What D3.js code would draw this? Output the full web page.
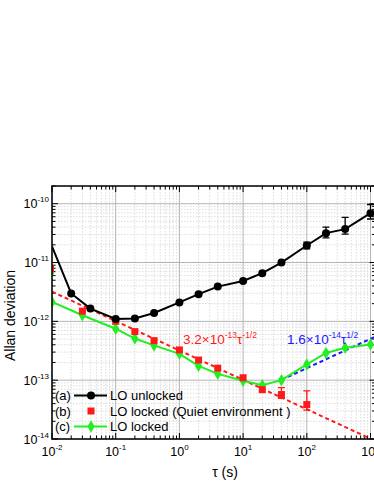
<!DOCTYPE html>
<html lang="en">
<head>
<meta charset="UTF-8">
<title>Allan deviation</title>
<script src="https://d3js.org/d3.v7.min.js"></script>
<style>
    body { margin: 0; background: #fff; }
    text { font-family: "Liberation Sans", Arial, sans-serif; }
</style>
</head>
<body>
<svg id="chart" width="374" height="484"></svg>
<script>
// (a) LO unlocked
const tauA = [0.01, 0.02, 0.04, 0.1, 0.2, 0.4, 1, 2, 4, 10, 20, 40, 100, 200, 400, 1000];
const adevA = [1.88e-11, 2.98e-12, 1.65e-12, 1.1e-12, 1.12e-12, 1.39e-12, 2.1e-12, 2.9e-12, 3.9e-12, 4.85e-12, 6.6e-12, 1.0e-11, 1.95e-11, 3.16e-11, 3.7e-11, 6.9e-11];
const errLoA = [null, null, null, null, null, null, null, null, null, null, null, null, 1.71e-11, 2.63e-11, 3.05e-11, 5.5e-11];
const errHiA = [null, null, null, null, null, null, null, null, null, null, null, null, 2.23e-11, 4.0e-11, 5.84e-11, 9.7e-11];

// (b) LO locked (quiet environment)
const tauB = [0.0095, 0.03, 0.1, 0.2, 0.4, 1, 2, 4, 10, 20, 40, 100];
const adevB = [7.8e-12, 1.49e-12, 1.0e-12, 6.7e-13, 4.7e-13, 3.27e-13, 2.2e-13, 1.6e-13, 1.1e-13, 6.9e-14, 5.7e-14, 3.85e-14];
const errLoB = [null, null, null, null, null, null, null, null, null, null, 4.9e-14, 3.1e-14];
const errHiB = [null, null, null, null, null, null, null, null, null, null, 7.5e-14, 6.6e-14];

// (c) LO locked
const tauC = [0.01, 0.03, 0.1, 0.2, 0.4, 1, 2, 4, 10, 20, 40, 100, 200, 400, 1000];
const adevC = [2.14e-12, 1.27e-12, 7.5e-13, 5.1e-13, 3.9e-13, 2.8e-13, 1.75e-13, 1.28e-13, 9.8e-14, 8.2e-14, 1.0e-13, 1.85e-13, 2.9e-13, 3.55e-13, 4.05e-13];
const strayTauC = [0.0095];
const strayAdevC = [6.5e-12];

// power-law fits: coeff * tau^exp
const fitRed = {coeff: 3.2e-13, exp: -0.5, from: 0.01, to: 1000};
const fitBlue = {coeff: 1.6e-14, exp: 0.5, from: 40, to: 1300};

const xDomain = [0.01, 1200];
const yDomain = [1e-14, 2e-10];
const xTickLabels = [0.01, 0.1, 1, 10, 100, 1000];
const yTickLabels = [1e-14, 1e-13, 1e-12, 1e-11, 1e-10];

const svg = d3.select("#chart");
const pLeft = 52, pTop = 186, pBottom = 439;
const decade = 63.7;

const x = d3.scaleLog().domain(xDomain)
    .range([pLeft, pLeft + decade * Math.log10(xDomain[1] / xDomain[0])]);
const y = d3.scaleLog().domain(yDomain).range([pBottom, pTop]);
const pRight = x.range()[1];

svg.append("defs").append("clipPath").attr("id", "plot")
    .append("rect").attr("x", pLeft).attr("y", pTop)
    .attr("width", pRight - pLeft).attr("height", pBottom - pTop);

const grid = svg.append("g");
const isMajor = v => Math.abs(Math.log10(v) - Math.round(Math.log10(v))) < 1e-6;
const xt = x.ticks(), yt = y.ticks();

// minor grid
grid.selectAll(".gx").data(xt.filter(d => !isMajor(d))).join("line")
    .attr("x1", d => x(d)).attr("x2", d => x(d)).attr("y1", pTop).attr("y2", pBottom)
    .attr("stroke", "#d4d4d4").attr("stroke-width", 0.8).attr("stroke-dasharray", "1.5,1.5");
grid.selectAll(".gy").data(yt.filter(d => !isMajor(d))).join("line")
    .attr("y1", d => y(d)).attr("y2", d => y(d)).attr("x1", pLeft).attr("x2", pRight)
    .attr("stroke", "#d4d4d4").attr("stroke-width", 0.8).attr("stroke-dasharray", "1.5,1.5");
// major grid
grid.selectAll(".mx").data(xt.filter(isMajor)).join("line")
    .attr("x1", d => x(d)).attr("x2", d => x(d)).attr("y1", pTop).attr("y2", pBottom)
    .attr("stroke", "#b4b4b4").attr("stroke-width", 1);
grid.selectAll(".my").data(yt.filter(isMajor)).join("line")
    .attr("y1", d => y(d)).attr("y2", d => y(d)).attr("x1", pLeft).attr("x2", pRight)
    .attr("stroke", "#b4b4b4").attr("stroke-width", 1);

// inward ticks
const ticks = svg.append("g").attr("stroke", "#000").attr("stroke-width", 1);
xt.forEach(d => {
    const len = isMajor(d) ? 6 : 3.5;
    ticks.append("line").attr("x1", x(d)).attr("x2", x(d)).attr("y1", pBottom).attr("y2", pBottom - len);
    ticks.append("line").attr("x1", x(d)).attr("x2", x(d)).attr("y1", pTop).attr("y2", pTop + len);
});
yt.forEach(d => {
    const len = isMajor(d) ? 6 : 3.5;
    ticks.append("line").attr("y1", y(d)).attr("y2", y(d)).attr("x1", pLeft).attr("x2", pLeft + len);
    ticks.append("line").attr("y1", y(d)).attr("y2", y(d)).attr("x1", pRight).attr("x2", pRight - len);
});

// tick labels
const exp = v => Math.round(Math.log10(v));
xTickLabels.forEach(d => {
    const t = svg.append("text").attr("x", x(d)).attr("y", 456)
        .attr("text-anchor", "middle").attr("font-size", 12.5);
    t.append("tspan").text("10");
    t.append("tspan").attr("dy", -6).attr("font-size", 8).text(exp(d));
});
yTickLabels.forEach(d => {
    const t = svg.append("text").attr("x", 49).attr("y", y(d) + 4.5)
        .attr("text-anchor", "end").attr("font-size", 12.5);
    t.append("tspan").text("10");
    t.append("tspan").attr("dy", -6).attr("font-size", 8).text(exp(d));
});

// axis titles
svg.append("text").attr("transform", `translate(15,${(pTop + pBottom) / 2 + 3}) rotate(-90)`)
    .attr("text-anchor", "middle").attr("font-size", 14).text("Allan deviation");
svg.append("text").attr("x", 225).attr("y", 477).attr("text-anchor", "middle")
    .attr("font-size", 14).text("τ (s)");

const plot = svg.append("g").attr("clip-path", "url(#plot)");
const line = d3.line().x(d => x(d[0])).y(d => y(d[1]));

// fits
[[fitRed, "#ff1a1a"], [fitBlue, "#1a1aff"]].forEach(([f, c]) => {
    const pts = [f.from, f.to].map(t => [t, f.coeff * Math.pow(t, f.exp)]);
    plot.append("path").attr("d", line(pts)).attr("fill", "none")
        .attr("stroke", c).attr("stroke-width", 2).attr("stroke-dasharray", "4,3");
});

function errorBars(taus, lo, hi, color) {
    taus.forEach((t, i) => {
        if (lo[i] == null) return;
        const g = plot.append("g").attr("stroke", color).attr("stroke-width", 1.3);
        g.append("line").attr("x1", x(t)).attr("x2", x(t)).attr("y1", y(lo[i])).attr("y2", y(hi[i]));
        g.append("line").attr("x1", x(t) - 3.5).attr("x2", x(t) + 3.5).attr("y1", y(lo[i])).attr("y2", y(lo[i]));
        g.append("line").attr("x1", x(t) - 3.5).attr("x2", x(t) + 3.5).attr("y1", y(hi[i])).attr("y2", y(hi[i]));
    });
}

// (c) green
const green = "#22ee22";
plot.append("path").attr("d", line(d3.zip(tauC, adevC))).attr("fill", "none")
    .attr("stroke", green).attr("stroke-width", 2);
const diamond = d3.symbol().type(d3.symbolDiamond).size(45);
plot.selectAll(".dc").data(d3.zip(tauC.concat(strayTauC), adevC.concat(strayAdevC))).join("path")
    .attr("d", diamond).attr("transform", d => `translate(${x(d[0])},${y(d[1])})`)
    .attr("fill", green);

// (b) red squares
errorBars(tauB, errLoB, errHiB, "#ff1a1a");
plot.selectAll(".sb").data(d3.zip(tauB, adevB)).join("rect")
    .attr("x", d => x(d[0]) - 3.5).attr("y", d => y(d[1]) - 3.5)
    .attr("width", 7).attr("height", 7).attr("fill", "#ff1a1a");

// (a) black
errorBars(tauA, errLoA, errHiA, "#000");
plot.append("path").attr("d", line(d3.zip(tauA, adevA))).attr("fill", "none")
    .attr("stroke", "#000").attr("stroke-width", 2);
plot.selectAll(".ca").data(d3.zip(tauA, adevA).slice(1)).join("circle")
    .attr("cx", d => x(d[0])).attr("cy", d => y(d[1])).attr("r", 4).attr("fill", "#000");

// frame
svg.append("rect").attr("x", pLeft).attr("y", pTop).attr("width", pRight - pLeft)
    .attr("height", pBottom - pTop).attr("fill", "none").attr("stroke", "#000").attr("stroke-width", 1.5);

// annotations
function powerLabel(xp, yp, color, pre, e1, e2) {
    const t = svg.append("text").attr("x", xp).attr("y", yp).attr("fill", color).attr("font-size", 13.5);
    t.append("tspan").text(pre);
    t.append("tspan").attr("dy", -6).attr("font-size", 8.5).text(e1);
    t.append("tspan").attr("dy", 6).text("τ");
    t.append("tspan").attr("dy", -6).attr("font-size", 8.5).text(e2);
}
powerLabel(183, 344, "#ff1a1a", "3.2×10", "-13", "-1/2");
powerLabel(287, 344, "#1a1aff", "1.6×10", "-14", "1/2");

// legend
const legendRows = [
    {tag: "(a)", label: "LO unlocked", kind: "a"},
    {tag: "(b)", label: "LO locked (Quiet environment )", kind: "b"},
    {tag: "(c)", label: "LO locked", kind: "c"}
];
const legend = svg.append("g");
legendRows.forEach((r, i) => {
    const cy = 395.5 + i * 15.5;
    legend.append("text").attr("x", 55).attr("y", cy + 4.5).attr("font-size", 13).text(r.tag);
    legend.append("text").attr("x", 110).attr("y", cy + 4.5).attr("font-size", 13).text(r.label);
    if (r.kind === "a") {
        legend.append("line").attr("x1", 74).attr("x2", 107).attr("y1", cy).attr("y2", cy)
            .attr("stroke", "#000").attr("stroke-width", 2);
        legend.append("circle").attr("cx", 91).attr("cy", cy).attr("r", 4).attr("fill", "#000");
    } else if (r.kind === "b") {
        legend.append("rect").attr("x", 87.5).attr("y", cy - 3.5).attr("width", 7).attr("height", 7)
            .attr("fill", "#ff1a1a");
    } else {
        legend.append("line").attr("x1", 74).attr("x2", 107).attr("y1", cy).attr("y2", cy)
            .attr("stroke", green).attr("stroke-width", 2);
        legend.append("path").attr("d", diamond).attr("transform", `translate(91,${cy})`).attr("fill", green);
    }
});
</script>
</body>
</html>
